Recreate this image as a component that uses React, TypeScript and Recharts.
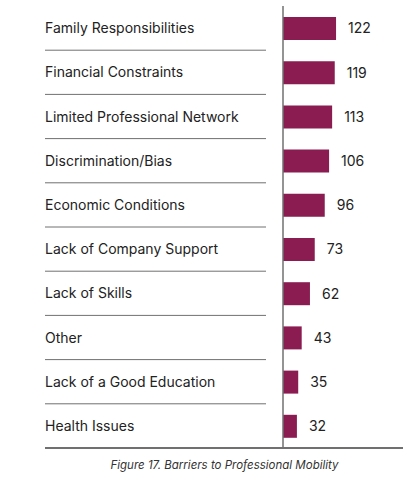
import { BarChart, Bar, XAxis, YAxis, LabelList } from "recharts";

const barriers = [
  "Family Responsibilities",
  "Financial Constraints",
  "Limited Professional Network",
  "Discrimination/Bias",
  "Economic Conditions",
  "Lack of Company Support",
  "Lack of Skills",
  "Other",
  "Lack of a Good Education",
  "Health Issues",
];
const counts = [122, 119, 113, 106, 96, 73, 62, 43, 35, 32];

const data = barriers.map((name, i) => ({ name, count: counts[i] }));

const FONT = "Inter, 'Noto Sans', sans-serif";
const LABEL_X = 45;

function CategoryTick(props: any) {
  const { y, payload, index } = props;
  const half = 22.1;
  const last = index === barriers.length - 1;
  return (
    <g>
      <text x={LABEL_X} y={y} dy={5} fontSize={14} fill="#222" fontFamily={FONT}>
        {payload.value}
      </text>
      {last ? (
        <line x1={LABEL_X} x2={403} y1={y + half} y2={y + half} stroke="#707070" strokeWidth={2.2} />
      ) : (
        <line x1={LABEL_X} x2={266} y1={y + half} y2={y + half} stroke="#707070" strokeWidth={1} />
      )}
    </g>
  );
}

export default function App() {
  return (
    <div style={{ position: "absolute", left: 0, top: 0, width: 419, height: 495, background: "#fff" }}>
      <BarChart
        width={419}
        height={460}
        data={data}
        layout="vertical"
        margin={{ top: 6, right: 16, bottom: 12, left: 0 }}
        barCategoryGap={21}
      >
        <XAxis type="number" domain={[0, 276]} hide />
        <YAxis
          type="category"
          dataKey="name"
          width={283}
          axisLine={{ stroke: "#707070", strokeWidth: 1.5 }}
          tickLine={false}
          tick={<CategoryTick />}
        />
        <Bar dataKey="count" fill="#8a1c52" barSize={23} isAnimationActive={false}>
          <LabelList
            dataKey="count"
            position="right"
            offset={12}
            fontSize={14}
            fill="#222"
            fontFamily={FONT}
          />
        </Bar>
      </BarChart>
      <div
        style={{
          position: "absolute",
          top: 458,
          left: 0,
          width: 449,
          textAlign: "center",
          fontFamily: FONT,
          fontStyle: "italic",
          fontSize: 11.5,
          color: "#333",
        }}
      >
        Figure 17. Barriers to Professional Mobility
      </div>
    </div>
  );
}
